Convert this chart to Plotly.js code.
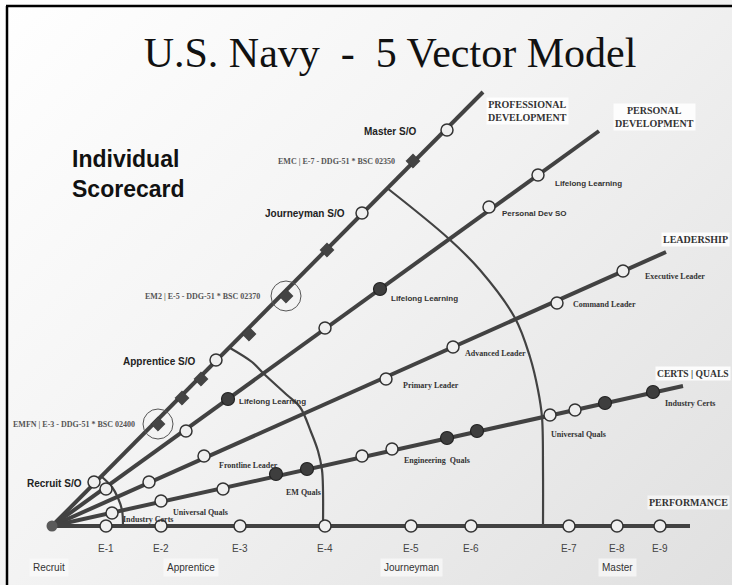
<!DOCTYPE html>
<html>
<head>
<meta charset="utf-8">
<script src="https://cdn.plot.ly/plotly-3.0.1.min.js"></script>
<style>
html,body{margin:0;padding:0;width:732px;height:585px;overflow:hidden;}
body{background:linear-gradient(135deg,#ffffff 0%,#f3f3f3 45%,#e0e0e0 100%);}
#chart{width:732px;height:585px;}
</style>
</head>
<body>
<div id="chart"></div>
<script>
// ---- data (diagram units, origin at the common vector root) ----
const vectorNames = ['PROFESSIONAL<br>DEVELOPMENT','PERSONAL<br>DEVELOPMENT','LEADERSHIP','CERTS | QUALS','PERFORMANCE'];
const vectorEndX = [431, 547, 614, 631, 638];
const vectorEndY = [434, 395, 274, 140, 0];

const profOpenX = [42, 164, 310, 395];
const profOpenY = [44, 166, 313, 396];
const profDiamondX = [106, 130, 149, 197, 234, 275, 361];
const profDiamondY = [102, 128, 147, 192, 230, 276, 365];
const highlightX = [106, 234];
const highlightY = [102, 230];

const persOpenX = [54, 134, 273, 437, 486];
const persOpenY = [37, 95, 198, 319, 351];
const persDarkX = [176, 328];
const persDarkY = [127, 237];

const leadOpenX = [97, 152, 334, 401, 505, 571];
const leadOpenY = [44, 70, 147, 179, 223, 255];

const certOpenX = [60, 109, 171, 310, 340, 498, 523];
const certOpenY = [13, 25, 37, 70, 77, 111, 116];
const certDarkX = [224, 255, 395, 425, 553, 601];
const certDarkY = [52, 57, 88, 95, 123, 134];

const perfOpenX = [54, 109, 188, 273, 359, 419, 517, 565, 608];
const perfOpenY = [0, 0, 0, 0, 0, 0, 0, 0, 0];
const gradeTicks = ['E-1','E-2','E-3','E-4','E-5','E-6','E-7','E-8','E-9'];

const arc1X = [50, 60, 66, 70, 71];
const arc1Y = [49, 39, 28, 16, 0];
const arc2X = [178, 200, 211, 235, 248, 259, 266, 270, 271, 271];
const arc2Y = [178, 164, 153, 131, 119, 94, 75, 56, 36, 0];
const arc3X = [335, 396, 428, 463, 478, 486, 490, 491, 491];
const arc3Y = [338, 288, 256, 208, 169, 136, 109, 56, 0];

const stageNames = ['Recruit','Apprentice','Journeyman','Master'];
const stageX = [-3, 139, 359, 565];

const profLabels = ['Recruit S/O','Apprentice S/O','Journeyman S/O','Master S/O'];
const recordLabels = ['EMFN | E-3 - DDG-51 * BSC 02400','EM2 | E-5 - DDG-51 * BSC 02370','EMC | E-7 - DDG-51 * BSC 02350'];

// ---- build ----
const DARK = '#424242';
const vx = [], vy = [];
for (let i = 0; i < vectorEndX.length; i++) { vx.push(0, vectorEndX[i], null); vy.push(0, vectorEndY[i], null); }

const openMarker = {symbol:'circle', size:12, color:'#efefef', line:{color:'#333', width:1.5}};
const darkMarker = {symbol:'circle', size:13, color:'#3e3e3e', line:{color:'#222', width:1.2}};

const traces = [
  {x:vx, y:vy, mode:'lines', line:{color:DARK, width:4}, hoverinfo:'skip'},
  {x:arc1X, y:arc1Y, mode:'lines', line:{color:DARK, width:2.2, shape:'spline'}, hoverinfo:'skip'},
  {x:arc2X, y:arc2Y, mode:'lines', line:{color:DARK, width:2.2, shape:'spline'}, hoverinfo:'skip'},
  {x:arc3X, y:arc3Y, mode:'lines', line:{color:DARK, width:2.2, shape:'spline'}, hoverinfo:'skip'},
  {x:highlightX, y:highlightY, mode:'markers', marker:{symbol:'circle-open', size:30, color:'#555', line:{width:1}}},
  {x:profDiamondX, y:profDiamondY, mode:'markers', marker:{symbol:'diamond', size:11, color:'#444', line:{color:'#333', width:0.5}}},
  {x:[0], y:[0], mode:'markers', marker:{symbol:'circle', size:11, color:'#5a5a5a'}},
  {x:profOpenX, y:profOpenY, mode:'markers', marker:openMarker},
  {x:persOpenX, y:persOpenY, mode:'markers', marker:openMarker},
  {x:persDarkX, y:persDarkY, mode:'markers', marker:darkMarker},
  {x:leadOpenX, y:leadOpenY, mode:'markers', marker:openMarker},
  {x:certOpenX, y:certOpenY, mode:'markers', marker:openMarker},
  {x:certDarkX, y:certDarkY, mode:'markers', marker:darkMarker},
  {x:perfOpenX, y:perfOpenY, mode:'markers', marker:openMarker}
];

const SERIF = '"Liberation Serif","Times New Roman",serif';
const SANS = '"Liberation Sans",Arial,sans-serif';
const ann = [];
function A(text, x, y, opts) {
  ann.push(Object.assign({text:text, x:x, y:y, xref:'x', yref:'y', showarrow:false,
    xanchor:'left', yanchor:'middle', font:{family:SERIF, size:8, color:'#333'}}, opts || {}));
}
// vector heads
A('<b>'+vectorNames[0]+'</b>', 475, 415, {xanchor:'center', font:{family:SERIF, size:10, color:'#333'}, bgcolor:'rgba(255,255,255,0.85)', borderpad:1});
A('<b>'+vectorNames[1]+'</b>', 602, 409, {xanchor:'center', font:{family:SERIF, size:10, color:'#333'}, bgcolor:'rgba(255,255,255,0.85)', borderpad:1});
A('<b>'+vectorNames[2]+'</b>', 678, 287, {xanchor:'right', font:{family:SERIF, size:10, color:'#333'}, bgcolor:'rgba(255,255,255,0.85)', borderpad:1});
A('<b>'+vectorNames[3]+'</b>', 679, 153, {xanchor:'right', font:{family:SERIF, size:9.6, color:'#333'}, bgcolor:'rgba(255,255,255,0.85)', borderpad:1});
A('<b>'+vectorNames[4]+'</b>', 678, 24, {xanchor:'right', font:{family:SERIF, size:10, color:'#333'}, bgcolor:'rgba(255,255,255,0.6)', borderpad:1});
// professional S/O labels
const profLabPos = [[32,43],[145,165],[295,313],[366,395]];
profLabels.forEach((t,i)=>A('<b>'+t+'</b>', profLabPos[i][0], profLabPos[i][1], {xanchor:'right', font:{family:SANS, size:10, color:'#222'}}));
const recPos = [[85,102],[210,230],[345,365]];
recordLabels.forEach((t,i)=>A('<b>'+t+'</b>', recPos[i][0], recPos[i][1], {xanchor:'right', font:{family:SERIF, size:8, color:'#555'}}));
// personal
A('<b>Lifelong Learning</b>', 501, 343, {font:{family:SANS, size:8, color:'#333'}});
A('<b>Personal Dev SO</b>', 448, 313, {font:{family:SANS, size:8, color:'#333'}});
A('<b>Lifelong Learning</b>', 337, 228, {font:{family:SANS, size:8, color:'#333'}});
A('<b>Lifelong Learning</b>', 185, 125, {font:{family:SANS, size:8, color:'#333'}});
// leadership
A('<b>Executive Leader</b>', 591, 250);
A('<b>Command Leader</b>', 519, 222);
A('<b>Advanced Leader</b>', 411, 173);
A('<b>Primary Leader</b>', 349, 141);
A('<b>Frontline Leader</b>', 165, 61);
// certs
A('<b>Industry Certs</b>', 611, 123);
A('<b>Universal Quals</b>', 497, 92);
A('<b>Engineering  Quals</b>', 350, 66);
A('<b>EM Quals</b>', 232, 34);
A('<b>Universal Quals</b>', 119, 14);
A('<b>Industry Certs</b>', 69, 7);
// grade ticks
gradeTicks.forEach((t,i)=>A(t, perfOpenX[i], -22, {xanchor:'center', font:{family:SANS, size:10, color:'#444'}}));
stageNames.forEach((t,i)=>A(t, stageX[i], -41, {xanchor:'center', font:{family:SANS, size:10, color:'#333'}, bgcolor:'rgba(250,250,250,0.75)', borderpad:3}));
// side title
A('<b>Individual<br>Scorecard</b>', 18, 352, {align:'left', font:{family:SANS, size:23, color:'#111'}});

const layout = {
  width:732, height:585,
  margin:{l:0, r:0, t:0, b:0},
  paper_bgcolor:'rgba(0,0,0,0)', plot_bgcolor:'rgba(0,0,0,0)',
  showlegend:false,
  title:{text:'U.S. Navy  -  5 Vector Model', x:390/732, y:1-52/585, xanchor:'center', yanchor:'middle', xref:'paper', yref:'paper',
         font:{family:SERIF, size:42, color:'#111'}},
  xaxis:{range:[-52, 680], visible:false, fixedrange:true},
  yaxis:{range:[-59, 526], visible:false, fixedrange:true},
  annotations:ann,
  shapes:[
    {type:'line', xref:'paper', yref:'paper', x0:6/732, x1:1, y0:1-6/585, y1:1-6/585, line:{color:'#000', width:2.5}},
    {type:'line', xref:'paper', yref:'paper', x0:7/732, x1:7/732, y0:0, y1:1-6/585, line:{color:'#000', width:2.5}}
  ]
};
Plotly.newPlot('chart', traces, layout, {staticPlot:true, displayModeBar:false});
</script>
</body>
</html>
